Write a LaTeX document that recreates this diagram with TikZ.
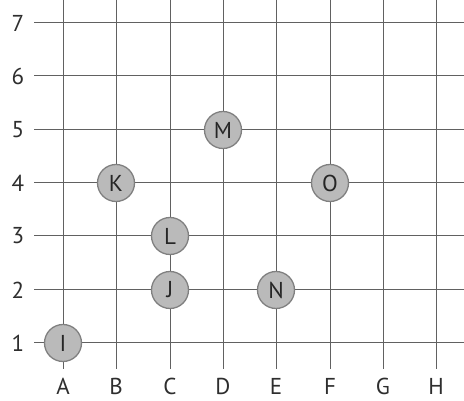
\documentclass[tikz,border=0pt]{standalone}
\usepackage{fontspec}
\setmainfont{PT Sans}
\begin{document}
\begin{tikzpicture}[x=1pt,y=1pt,
  gridline/.style={draw=black!62, line width=1pt},
  stone/.style={circle, draw=black!50, line width=1.3pt, fill=black!27,
    minimum size=37pt, inner sep=0pt, text=black!85,
    font=\fontsize{23}{23}\selectfont},
  axislabel/.style={inner sep=0pt, text=black!82, font=\fontsize{23}{23}\selectfont}]
\useasboundingbox (0,0) rectangle (464,401);
% vertical grid lines and column labels
\foreach \xx/\L in {63/A,116/B,170/C,223/D,276/E,330/F,383/G,436/H}{
  \coordinate (top\L) at (\xx,401);
  \coordinate (bot\L) at (\xx,32);
  \draw[gridline] (top\L) -- (bot\L);
  \node[axislabel] (lab\L) at (\xx,15) {\L};
}
% horizontal grid lines and row labels
\foreach \yy/\r in {58/1,111/2,165/3,218/4,271/5,325/6,378/7}{
  \coordinate (left\r) at (34,\yy);
  \coordinate (right\r) at (464,\yy);
  \draw[gridline] (left\r) -- (right\r);
  \node[axislabel] (lab\r) at (18,\yy) {\r};
}
% stones
\node[stone] (I) at (63,58) {I};
\node[stone] (J) at (170,111) {J};
\node[stone] (N) at (276,111) {N};
\node[stone] (L) at (170,165) {L};
\node[stone] (K) at (116,218) {K};
\node[stone] (O) at (330,218) {O};
\node[stone] (M) at (223,271) {M};
\end{tikzpicture}
\end{document}
